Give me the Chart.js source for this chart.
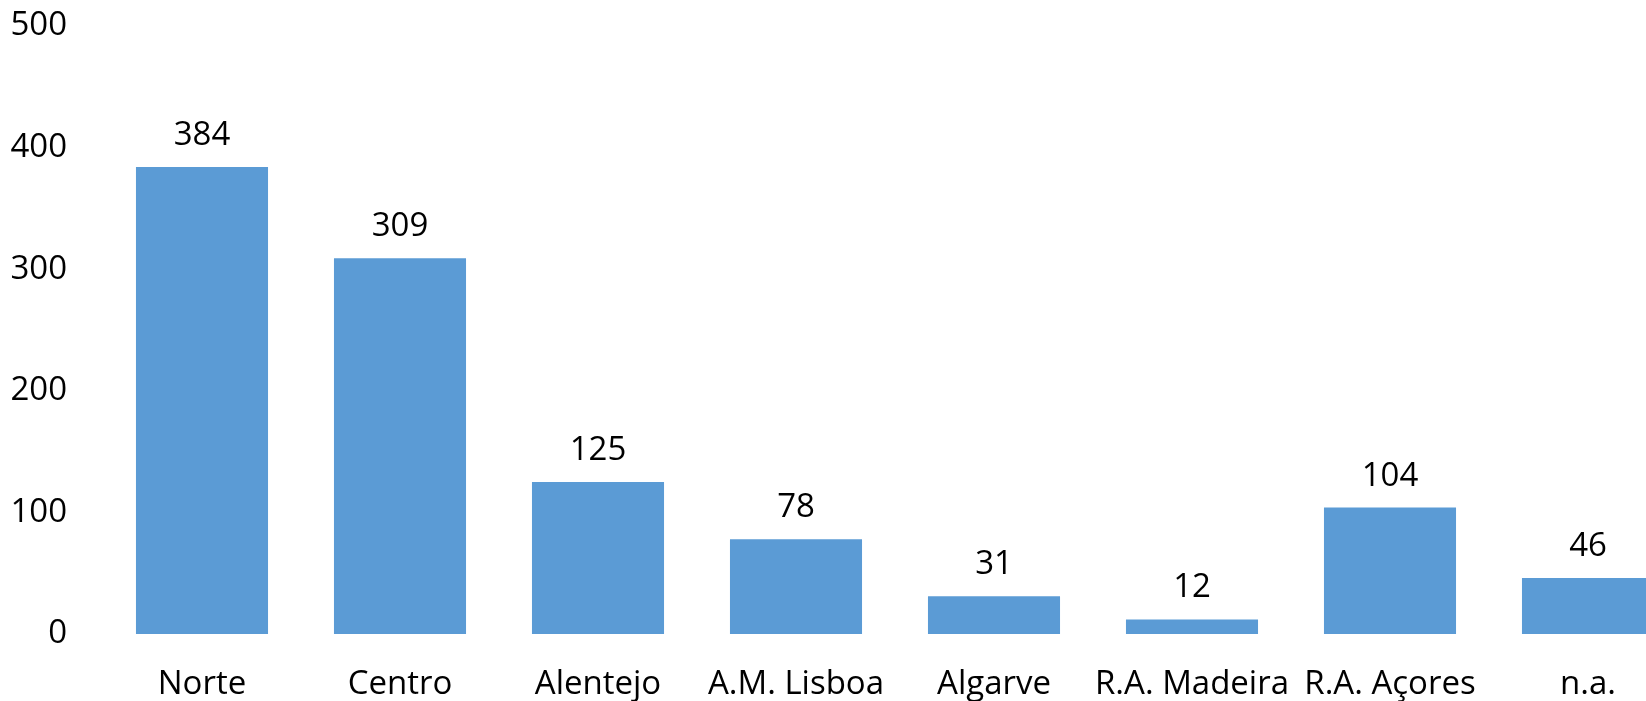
<!DOCTYPE html>
<html>
<head>
<meta charset="utf-8">
<script src="https://cdn.jsdelivr.net/npm/chart.js@4"></script>
<style>
  html, body { margin: 0; padding: 0; background: #fff; overflow: hidden; }
  #wrap { width: 1687px; height: 701px; }
</style>
</head>
<body>
<div id="wrap"><canvas id="regions" width="1687" height="701"></canvas></div>
<script>
// regions and counts
const categories = ['Norte', 'Centro', 'Alentejo', 'A.M. Lisboa', 'Algarve', 'R.A. Madeira', 'R.A. Açores', 'n.a.'];
const counts = [384, 309, 125, 78, 31, 12, 104, 46];
const yTicks = [0, 100, 200, 300, 400, 500];

const FONT = "'Open Sans', sans-serif";

// draws the value above every bar
const valueLabels = {
  id: 'valueLabels',
  afterDatasetsDraw(chart) {
    const ctx = chart.ctx;
    const meta = chart.getDatasetMeta(0);
    ctx.save();
    ctx.font = '33px ' + FONT;
    ctx.fillStyle = '#000';
    ctx.textAlign = 'center';
    ctx.textBaseline = 'alphabetic';
    meta.data.forEach((bar, i) => {
      ctx.fillText(String(counts[i]), bar.x, bar.y - 22);
    });
    ctx.restore();
  }
};

const ctx = document.getElementById('regions');
new Chart(ctx, {
  type: 'bar',
  data: {
    labels: categories,
    datasets: [{
      data: counts,
      backgroundColor: '#5B9BD5',
      borderWidth: 0,
      barPercentage: 0.667,
      categoryPercentage: 1
    }]
  },
  options: {
    responsive: false,
    animation: false,
    layout: { padding: { top: 26, right: 0, bottom: 0, left: 0 } },
    plugins: { legend: { display: false }, tooltip: { enabled: false } },
    scales: {
      x: {
        grid: { display: false, drawTicks: false },
        border: { display: false },
        ticks: { color: '#000', font: { family: FONT, size: 33 }, padding: 31, maxRotation: 0, autoSkip: false },
        afterFit(scale) { scale.height = 67; }
      },
      y: {
        min: 0,
        max: 500,
        afterBuildTicks(scale) { scale.ticks = yTicks.map(v => ({ value: v })); },
        grid: { display: false, drawTicks: false },
        border: { display: false },
        ticks: { color: '#000', font: { family: FONT, size: 33 }, padding: 36 },
        afterFit(scale) { scale.width = 103; scale.paddingTop = 0; scale.paddingBottom = 0; }
      }
    }
  },
  plugins: [valueLabels]
});
</script>
</body>
</html>
